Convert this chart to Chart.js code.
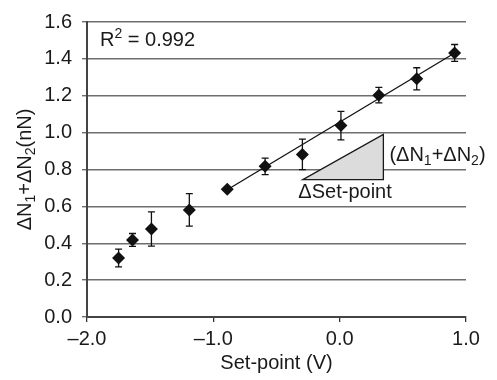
<!DOCTYPE html>
<html>
<head>
<meta charset="utf-8">
<script src="https://cdn.jsdelivr.net/npm/chart.js@4.4.1/dist/chart.umd.min.js"></script>
<style>
  html, body { margin: 0; padding: 0; background: #fff; }
  #wrap { width: 497px; height: 380px; }
</style>
</head>
<body>
<div id="wrap"><canvas id="forceChart"></canvas></div>
<script>
// set-point voltage (V) and summed normal force (nN)
var setPoint = [-1.75, -1.64, -1.49, -1.19, -0.89, -0.59, -0.295, 0.01, 0.31, 0.61, 0.91];
var force    = [0.32, 0.418, 0.477, 0.581, 0.693, 0.817, 0.882, 1.038, 1.203, 1.292, 1.432];
var forceErr = [0.048, 0.035, 0.093, 0.088, 0.01, 0.045, 0.083, 0.077, 0.042, 0.06, 0.046];

// linear fit, drawn over the upper range
var fitX = [-0.89, 0.91];
var fitY = [0.69, 1.432];
var rSquared = '0.992';

// slope triangle corners (x, y in data units)
var triangle = [[-0.292, 0.745], [0.346, 0.745], [0.346, 0.99]];

var xTicks = [-2, -1, 0, 1];
var FONT = '"Liberation Sans", Arial, Helvetica, sans-serif';

function pts(xs, ys) {
    return xs.map(function (v, i) { return { x: v, y: ys[i] }; });
}

// draws text made of runs, some of them sub/superscripted
function richText(ctx, parts, x, y, align, size) {
    var small = Math.round(size * 0.7);
    var widths = parts.map(function (p) {
        ctx.font = (p.sub || p.sup ? small : size) + 'px ' + FONT;
        return ctx.measureText(p.t).width;
    });
    var total = widths.reduce(function (a, b) { return a + b; }, 0);
    var cx = align === 'center' ? x - total / 2 : x;
    ctx.textBaseline = 'middle';
    ctx.textAlign = 'left';
    parts.forEach(function (p, i) {
        var dy = 0;
        if (p.sub) dy = size * 0.3;
        if (p.sup) dy = -size * 0.3;
        ctx.font = (p.sub || p.sup ? small : size) + 'px ' + FONT;
        ctx.fillText(p.t, cx, y + dy);
        cx += widths[i];
    });
}

var errorBars = {
    id: 'errorBars',
    beforeDatasetsDraw: function (chart) {
        var xs = chart.scales.x, ys = chart.scales.y, ctx = chart.ctx;
        ctx.save();
        ctx.strokeStyle = '#111';
        ctx.lineWidth = 1.3;
        setPoint.forEach(function (v, i) {
            var px = xs.getPixelForValue(v);
            var top = ys.getPixelForValue(force[i] + forceErr[i]);
            var bot = ys.getPixelForValue(force[i] - forceErr[i]);
            ctx.beginPath();
            ctx.moveTo(px, top); ctx.lineTo(px, bot);
            ctx.moveTo(px - 3.5, top); ctx.lineTo(px + 3.5, top);
            ctx.moveTo(px - 3.5, bot); ctx.lineTo(px + 3.5, bot);
            ctx.stroke();
        });
        ctx.restore();
    }
};

var annotations = {
    id: 'annotations',
    beforeDatasetsDraw: function (chart) {
        var xs = chart.scales.x, ys = chart.scales.y, ctx = chart.ctx;
        ctx.save();
        ctx.beginPath();
        triangle.forEach(function (c, i) {
            var px = xs.getPixelForValue(c[0]), py = ys.getPixelForValue(c[1]);
            if (i === 0) ctx.moveTo(px, py); else ctx.lineTo(px, py);
        });
        ctx.closePath();
        ctx.fillStyle = '#dcdcdc';
        ctx.fill();
        ctx.strokeStyle = '#1a1a1a';
        ctx.lineWidth = 1.3;
        ctx.stroke();
        ctx.restore();
    },
    afterDraw: function (chart) {
        var xs = chart.scales.x, ys = chart.scales.y, ctx = chart.ctx;
        ctx.save();
        ctx.fillStyle = '#1a1a1a';

        richText(ctx, [{ t: 'R' }, { t: '2', sup: true }, { t: ' = ' + rSquared }],
            xs.getPixelForValue(-1.897), ys.getPixelForValue(1.5), 'left', 20);

        richText(ctx, [{ t: '(\u0394N' }, { t: '1', sub: true }, { t: '+\u0394N' }, { t: '2', sub: true }, { t: ')' }],
            xs.getPixelForValue(triangle[1][0]) + 6, ys.getPixelForValue(0.877), 'left', 20);

        var midX = (xs.getPixelForValue(triangle[0][0]) + xs.getPixelForValue(triangle[1][0])) / 2;
        richText(ctx, [{ t: '\u0394Set-point' }], midX + 2, ys.getPixelForValue(triangle[0][1]) + 13, 'center', 20);

        // y axis title
        ctx.translate(25, (chart.chartArea.top + chart.chartArea.bottom) / 2);
        ctx.rotate(-Math.PI / 2);
        richText(ctx, [{ t: '\u0394N' }, { t: '1', sub: true }, { t: '+\u0394N' }, { t: '2', sub: true }, { t: '(nN)' }],
            0, 0, 'center', 20);
        ctx.restore();
    }
};

var ctx = document.getElementById('forceChart').getContext('2d');
var forceChart = new Chart(ctx, {
    type: 'scatter',
    data: {
        datasets: [{
            label: 'Measured',
            data: pts(setPoint, force),
            pointStyle: 'rectRot',
            pointRadius: 6.5,
            backgroundColor: '#111',
            borderColor: '#111',
            borderWidth: 0
        }, {
            label: 'Fit',
            type: 'line',
            data: pts(fitX, fitY),
            borderColor: '#111',
            borderWidth: 1.3,
            pointRadius: 0,
            fill: false
        }]
    },
    options: {
        responsive: true,
        maintainAspectRatio: false,
        animation: false,
        layout: { padding: { top: 16, right: 31, left: 0, bottom: 0 } },
        plugins: {
            legend: { display: false },
            tooltip: { enabled: false }
        },
        scales: {
            x: {
                type: 'linear',
                min: -2,
                max: 1,
                afterBuildTicks: function (scale) {
                    scale.ticks = xTicks.map(function (v) { return { value: v }; });
                },
                afterFit: function (scale) { scale.height = 63; },
                grid: { drawOnChartArea: false, drawTicks: true, tickLength: 5, color: '#333', lineWidth: 1.3 },
                border: { color: '#444', width: 2 },
                ticks: {
                    color: '#1a1a1a',
                    padding: 5,
                    font: { family: FONT, size: 20 },
                    callback: function (v) { return v.toFixed(1).replace('-', '\u2013'); }
                },
                title: {
                    display: true,
                    text: 'Set-point (V)',
                    color: '#1a1a1a',
                    font: { family: FONT, size: 20 },
                    padding: { top: 0, bottom: 5 }
                }
            },
            y: {
                min: 0,
                max: 1.6,
                afterFit: function (scale) { scale.width = 87; },
                grid: { color: '#6e6e6e', lineWidth: 1.4, tickLength: 5 },
                border: { color: '#444', width: 2 },
                ticks: {
                    stepSize: 0.2,
                    color: '#1a1a1a',
                    padding: 10,
                    font: { family: FONT, size: 20 },
                    callback: function (v) { return v.toFixed(1); }
                }
            }
        }
    },
    plugins: [errorBars, annotations]
});
</script>
</body>
</html>
